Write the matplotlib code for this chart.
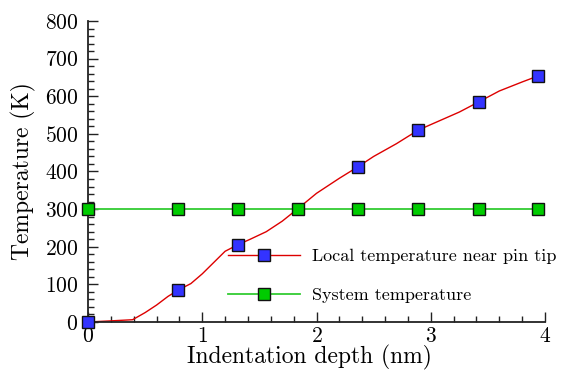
import matplotlib
matplotlib.use("Agg")
import matplotlib.pyplot as plt
from matplotlib.ticker import MultipleLocator

# Local temperature near pin tip (red curve)
local_x = [0.0, 0.2, 0.39, 0.5, 0.6, 0.7, 0.79, 0.9, 1.0, 1.1, 1.2, 1.31, 1.42, 1.56,
           1.7, 1.84, 2.0, 2.2, 2.36, 2.5, 2.7, 2.89, 3.1, 3.25, 3.42, 3.6, 3.8, 3.94]
local_y = [0, 3, 6, 25, 45, 68, 85, 102, 128, 158, 188, 205, 220, 240,
           268, 302, 342, 382, 412, 440, 474, 510, 538, 558, 585, 614, 638, 654]
local_mx = [0.0, 0.79, 1.31, 2.36, 2.89, 3.42, 3.94]
local_my = [0, 85, 205, 412, 510, 585, 654]

# System temperature (green)
sys_x = [0.0, 0.79, 1.31, 1.84, 2.36, 2.89, 3.42, 3.94]
sys_y = [300, 300, 300, 300, 300, 300, 300, 300]

x_ticks = [0, 1, 2, 3, 4]
y_ticks = [0, 100, 200, 300, 400, 500, 600, 700, 800]

plt.rcParams['font.family'] = ['cmr10', 'DejaVu Serif']
plt.rcParams['axes.formatter.use_mathtext'] = True
plt.rcParams['mathtext.fontset'] = 'cm'

fig = plt.figure(figsize=(5.62, 3.71), dpi=100)
ax = fig.add_axes([0.1566, 0.1321, 0.8132, 0.8113])

red = '#dd0000'
green = '#33cc33'
blue_m = '#3333ff'
green_m = '#00cc00'

ax.plot(local_x, local_y, color=red, lw=1.0, zorder=2)
ax.plot(local_mx, local_my, ls='none', marker='s', ms=8.5, mfc=blue_m,
        mec='#111111', mew=1.0, zorder=3, clip_on=False)
ax.plot(sys_x, sys_y, color=green, lw=1.3, marker='s', ms=8.5, mfc=green_m,
        mec='#111111', mew=1.0, zorder=4, clip_on=False)

# legend proxies
h1, = ax.plot([], [], color=red, lw=1.0, marker='s', ms=8.5, mfc=blue_m, mec='#111111', mew=1.0)
h2, = ax.plot([], [], color=green, lw=1.3, marker='s', ms=8.5, mfc=green_m, mec='#111111', mew=1.0)
leg = ax.legend([h1, h2], ['Local temperature near pin tip', 'System temperature'],
                loc='upper left', bbox_to_anchor=(0.306, 0.245), frameon=False,
                fontsize=13, handlelength=3.99, labelspacing=1.3, handletextpad=0.66,
                borderaxespad=0, borderpad=0)

ax.set_xlim(0, 4)
ax.set_ylim(0, 800)
ax.set_xticks(x_ticks)
ax.set_yticks(y_ticks)
ax.xaxis.set_minor_locator(MultipleLocator(0.2))
ax.yaxis.set_minor_locator(MultipleLocator(20))
ax.tick_params(which='both', direction='in', labelsize=15.5, width=1.0, color='#222222')
ax.tick_params(which='major', length=7)
ax.tick_params(which='minor', length=4)
ax.tick_params(axis='x', pad=3)
ax.tick_params(axis='y', pad=7)
ax.spines['top'].set_visible(False)
ax.spines['right'].set_visible(False)
for s in ['left', 'bottom']:
    ax.spines[s].set_linewidth(1.3)
    ax.spines[s].set_color('#222222')

ax.set_xlabel('Indentation depth (nm)', fontsize=17, labelpad=3)
ax.xaxis.set_label_coords(0.4836, -0.075)
ax.set_ylabel('Temperature (K)', fontsize=17, labelpad=6)

fig.savefig('out.png', dpi=100)
